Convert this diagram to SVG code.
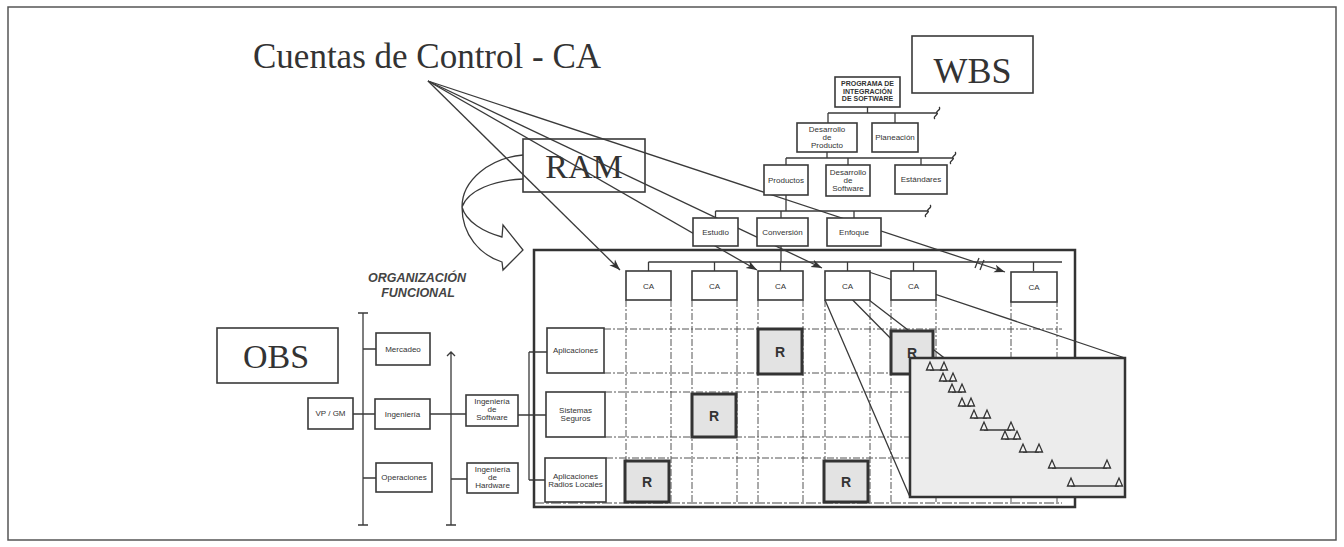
<svg xmlns="http://www.w3.org/2000/svg" width="1344" height="547" viewBox="0 0 1344 547">
<style>
.box{fill:#fff;stroke:#3a3a3a;stroke-width:1.6}
.t{font-family:"Liberation Sans",Arial,sans-serif;font-size:8px;fill:#333;text-anchor:middle}
.tb{font-family:"Liberation Sans",Arial,sans-serif;font-size:7px;font-weight:bold;fill:#333;text-anchor:middle}
.big{font-family:"Liberation Serif","Times New Roman",serif;fill:#333;text-anchor:middle}
.ln{stroke:#3a3a3a;stroke-width:1.6;fill:none}
.thin{stroke:#3a3a3a;stroke-width:1.3;fill:none}
.dash{stroke:#555;stroke-width:1;stroke-dasharray:7 2 2 2;fill:none}
.rbox{fill:#e3e3e3;stroke:#333;stroke-width:3}
.rt{font-family:"Liberation Sans",Arial,sans-serif;font-size:14px;font-weight:bold;fill:#333;text-anchor:middle}
.tri{fill:#f4f4f4;stroke:#333;stroke-width:1.3}
</style>
<defs>
<marker id="ah" markerUnits="userSpaceOnUse" markerWidth="12" markerHeight="10" refX="11" refY="5" orient="auto">
<path d="M0,1 L11,5 L0,9 L3,5 Z" fill="#333"/>
</marker>
<path id="brk" d="M-2,6 C-5,4 2,1 0,0 C-2,-1 5,-4 2,-6" fill="none" stroke="#333" stroke-width="1.3"/>
<path id="tr" d="M0,0 L3.5,-8 L7,0 Z"/>
</defs>
<rect width="1344" height="547" fill="#fff"/>
<rect x="8" y="7" width="1328" height="533" fill="none" stroke="#555" stroke-width="1.5"/>

<g id="title"><text class="big" x="253" y="68" font-size="35" text-anchor="start" style="text-anchor:start">Cuentas de Control - CA</text></g>

<g id="wbs-label"><rect class="box" x="912" y="36" width="121" height="57"/><text class="big" x="972.5" y="83" font-size="36">WBS</text></g>
<g id="ram-label"><rect class="box" x="523" y="139" width="122" height="53"/><text class="big" x="584" y="178" font-size="34">RAM</text></g>
<g id="obs-label"><rect class="box" x="217" y="328" width="121" height="55"/><text class="big" x="276" y="368" font-size="34">OBS</text></g>

<!-- RAM frame -->
<g id="ram-frame">
<rect x="534" y="250" width="541" height="257" fill="none" stroke="#333" stroke-width="2.5"/>
</g>

<!-- connectors -->
<g id="connectors">
<!-- WBS tree -->
<path class="thin" d="M867.5,107 V113 M828,113 H937 M828,113 V123 M895,113 V123"/>
<use href="#brk" x="937" y="113"/>
<path class="thin" d="M827,152 V158 M786,158 H953 M786,158 V165 M848,158 V165 M921,158 V165"/>
<use href="#brk" x="953" y="158"/>
<path class="thin" d="M786,195 V211 M715.5,211 H928 M715.5,211 V218 M781,211 V218 M854,211 V218"/>
<use href="#brk" x="928" y="211"/>
<path class="thin" d="M781,246 V262 M648.5,262 H1062 M648.5,262 V271 M714.5,262 V271 M780.5,262 V271 M847.5,262 V271 M913.5,262 V271 M1033.5,262 V271"/>
<!-- grid -->
<path class="dash" d="M626,300 V503 M671,300 V503 M692,300 V503 M737,300 V503 M758,300 V503 M803,300 V503 M825,300 V503 M870,300 V503 M891,300 V503 M936,300 V503 M1011,300 V503 M1057,300 V503"/>
<path class="dash" d="M604,329 H1062 M604,373 H1062 M605,392 H1062 M605,437 H1062 M606,458 H1062"/>
<path d="M534,503 H1062" stroke="#444" stroke-width="1.2" stroke-dasharray="10 2 3 2"/>
<!-- OBS tree -->
<path class="thin" d="M353,414 H375 M363,313 V525 M358,313 H368 M358,525 H368 M363,349 H376 M363,478 H376 M430,414 H466 M451,352 V525 M447,356 L451,352 L455,356 M446,525 H456 M451,479 H467 M518,415 H546 M529,352 V480 M529,352 H547 M529,480 H545"/>
<!-- magnification cone -->
<path class="thin" d="M825,272 L910,358 M869,272 L1125,358 M825,300 L910,497 M869,300 L1125,497"/>
<!-- curved block arrow -->
<path class="thin" d="M523,155 C490,158 462,180 462,207 C462,235 480,255 502,262 L503,270 L523,250 L503,225 L502,237 C484,232 466,222 462,207 C468,190 495,180 523,179"/>
<!-- CA pointer arrows -->
<path class="thin" d="M428,81 L620,270" marker-end="url(#ah)"/>
<path class="thin" d="M428,81 L757,270" marker-end="url(#ah)"/>
<path class="thin" d="M428,81 L822,268" marker-end="url(#ah)"/>
<path class="thin" d="M428,81 L1005,272" marker-end="url(#ah)"/>
<path class="thin" d="M975,268 L979,258 M980,270 L984,260"/>
</g>

<!-- WBS nodes -->
<g id="wbs-programa"><rect class="box" x="835" y="77" width="65" height="30"/><text class="tb" x="867.5" y="86">PROGRAMA DE</text><text class="tb" x="867.5" y="93.5">INTEGRACIÓN</text><text class="tb" x="867.5" y="101">DE SOFTWARE</text></g>
<g id="wbs-desarrollo-producto"><rect class="box" x="797" y="123" width="60" height="29"/><text class="t" x="827" y="132" font-size="7.5">Desarrollo</text><text class="t" x="827" y="140" font-size="7.5">de</text><text class="t" x="827" y="148" font-size="7.5">Producto</text></g>
<g id="wbs-planeacion"><rect class="box" x="872" y="123" width="46" height="29"/><text class="t" x="895" y="140">Planeación</text></g>
<g id="wbs-productos"><rect class="box" x="764" y="165" width="44" height="30"/><text class="t" x="786" y="183">Productos</text></g>
<g id="wbs-desarrollo-software"><rect class="box" x="826" y="165" width="44" height="31"/><text class="t" x="848" y="175" font-size="7.5">Desarrollo</text><text class="t" x="848" y="183" font-size="7.5">de</text><text class="t" x="848" y="191" font-size="7.5">Software</text></g>
<g id="wbs-estandares"><rect class="box" x="895" y="165" width="52" height="29"/><text class="t" x="921" y="182">Estándares</text></g>
<g id="wbs-estudio"><rect class="box" x="693" y="218" width="45" height="28"/><text class="t" x="715.5" y="235">Estudio</text></g>
<g id="wbs-conversion"><rect class="box" x="757" y="218" width="51" height="28"/><text class="t" x="782.5" y="235">Conversión</text></g>
<g id="wbs-enfoque"><rect class="box" x="827" y="218" width="54" height="28"/><text class="t" x="854" y="235">Enfoque</text></g>

<!-- CA nodes -->
<g id="ca1"><rect class="box" x="626" y="271" width="45" height="29"/><text class="t" x="648.5" y="289">CA</text></g>
<g id="ca2"><rect class="box" x="692" y="271" width="45" height="29"/><text class="t" x="714.5" y="289">CA</text></g>
<g id="ca3"><rect class="box" x="758" y="271" width="45" height="29"/><text class="t" x="780.5" y="289">CA</text></g>
<g id="ca4"><rect class="box" x="825" y="271" width="45" height="29"/><text class="t" x="847.5" y="289">CA</text></g>
<g id="ca5"><rect class="box" x="891" y="271" width="45" height="29"/><text class="t" x="913.5" y="289">CA</text></g>
<g id="ca6"><rect class="box" x="1011" y="272" width="46" height="30"/><text class="t" x="1034" y="290">CA</text></g>

<!-- row nodes -->
<g id="row-aplicaciones"><rect class="box" x="547" y="328" width="57" height="45"/><text class="t" x="575.5" y="353">Aplicaciones</text></g>
<g id="row-sistemas"><rect class="box" x="546" y="392" width="59" height="45"/><text class="t" x="575.5" y="413">Sistemas</text><text class="t" x="575.5" y="421">Seguros</text></g>
<g id="row-radios"><rect class="box" x="545" y="458" width="61" height="44"/><text class="t" x="575.5" y="479">Aplicaciones</text><text class="t" x="575.5" y="487">Radios Locales</text></g>

<!-- R cells -->
<g id="r1"><rect class="rbox" x="758" y="329" width="44" height="45"/><text class="rt" x="780" y="357">R</text></g>
<g id="r2"><rect class="rbox" x="692" y="394" width="44" height="43"/><text class="rt" x="714" y="421">R</text></g>
<g id="r3"><rect class="rbox" x="625" y="461" width="44" height="41"/><text class="rt" x="647" y="487">R</text></g>
<g id="r4"><rect class="rbox" x="824" y="461" width="44" height="41"/><text class="rt" x="846" y="487">R</text></g>
<g id="r5"><rect class="rbox" x="891" y="331" width="42" height="43"/><text class="rt" x="912" y="358">R</text></g>

<!-- magnified schedule -->
<g id="schedule">
<rect x="910" y="358" width="215" height="139" fill="#ececec" stroke="#333" stroke-width="2.5"/>
<g class="thin">
<path d="M930,370 H944 M943,381 H953 M952,392 H962 M962,406 H971 M974,418 H987 M984,430 H1011 M1005,439 H1017 M1023,452 H1039 M1052,468 H1107 M1071,486 H1119"/>
</g>
<g class="tri">
<use href="#tr" x="926.5" y="370"/><use href="#tr" x="940.5" y="370"/>
<use href="#tr" x="939.5" y="381"/><use href="#tr" x="949.5" y="381"/>
<use href="#tr" x="948.5" y="392"/><use href="#tr" x="958.5" y="392"/>
<use href="#tr" x="958.5" y="406"/><use href="#tr" x="967.5" y="406"/>
<use href="#tr" x="970.5" y="418"/><use href="#tr" x="983.5" y="418"/>
<use href="#tr" x="980.5" y="430"/><use href="#tr" x="1007.5" y="430"/>
<use href="#tr" x="1001.5" y="439"/><use href="#tr" x="1013.5" y="439"/>
<use href="#tr" x="1019.5" y="452"/><use href="#tr" x="1035.5" y="452"/>
<use href="#tr" x="1048.5" y="468"/><use href="#tr" x="1103.5" y="468"/>
<use href="#tr" x="1067.5" y="486"/><use href="#tr" x="1115.5" y="486"/>
</g>
</g>

<!-- OBS nodes -->
<g id="org-label"><text x="417" y="282" font-family="Liberation Sans,Arial,sans-serif" font-size="12.5" font-weight="bold" font-style="italic" fill="#444" text-anchor="middle">ORGANIZACIÓN</text><text x="418" y="297" font-family="Liberation Sans,Arial,sans-serif" font-size="12.5" font-weight="bold" font-style="italic" fill="#444" text-anchor="middle">FUNCIONAL</text></g>
<g id="obs-vpgm"><rect class="box" x="308" y="398" width="45" height="31"/><text class="t" x="330.5" y="416">VP / GM</text></g>
<g id="obs-mercadeo"><rect class="box" x="376" y="333" width="54" height="32"/><text class="t" x="403" y="352">Mercadeo</text></g>
<g id="obs-ingenieria"><rect class="box" x="375" y="399" width="55" height="30"/><text class="t" x="402.5" y="417">Ingeniería</text></g>
<g id="obs-operaciones"><rect class="box" x="376" y="463" width="56" height="29"/><text class="t" x="404" y="480">Operaciones</text></g>
<g id="obs-ing-software"><rect class="box" x="466" y="395" width="52" height="31"/><text class="t" x="492" y="404" font-size="7.5">Ingeniería</text><text class="t" x="492" y="412" font-size="7.5">de</text><text class="t" x="492" y="420" font-size="7.5">Software</text></g>
<g id="obs-ing-hardware"><rect class="box" x="467" y="463" width="51" height="30"/><text class="t" x="492.5" y="472" font-size="7.5">Ingeniería</text><text class="t" x="492.5" y="480" font-size="7.5">de</text><text class="t" x="492.5" y="488" font-size="7.5">Hardware</text></g>
</svg>
